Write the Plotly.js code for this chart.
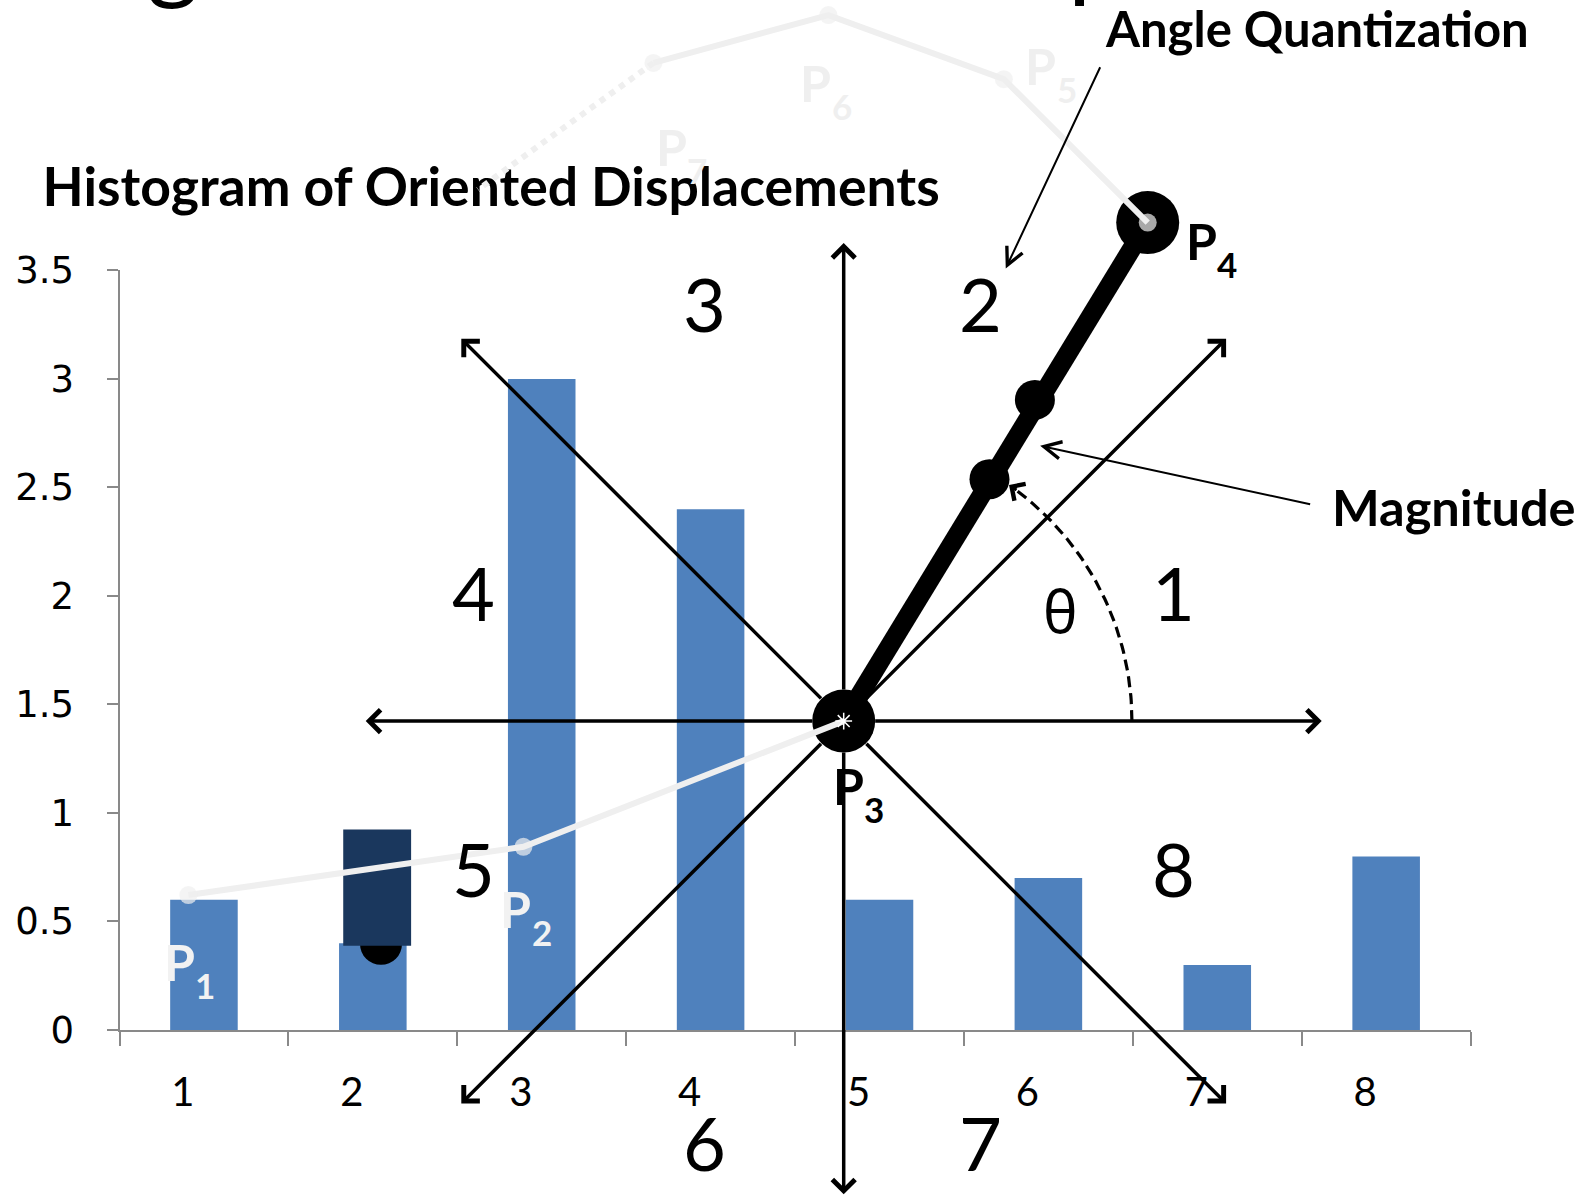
<!DOCTYPE html>
<html>
<head>
<meta charset="utf-8">
<script src="https://cdn.plot.ly/plotly-3.0.1.min.js"></script>
<style>
  html, body { margin: 0; padding: 0; background: #ffffff; }
  #chart { width: 1588px; height: 1198px; }
</style>
</head>
<body>
<div id="chart"></div>
<script>
// ---- Histogram of oriented displacements: 8 direction bins ----
const bins = ['1', '2', '3', '4', '5', '6', '7', '8'];
const binCounts = [0.6, 0.4, 3.0, 2.4, 0.6, 0.7, 0.3, 0.8];
const yTickVals = [0, 0.5, 1, 1.5, 2, 2.5, 3, 3.5];
const yTickText = ['0', '0.5', '1', '1.5', '2', '2.5', '3', '3.5'];

// ---- Joint trajectory P1..P7 (diagram units: P3 at the origin, octant arrows of length 1) ----
const pointNames = ['1', '2', '3', '4', '5', '6', '7'];
const trajX = [-1.371, -0.670, 0, 0.636, 0.335, -0.032, -0.398];
const trajY = [-0.364, -0.263, 0, 1.043, 1.343, 1.477, 1.377];
// dotted continuation of the path after P7
const tailX = [-0.398, -0.765];
const tailY = [1.377, 1.112];
// intermediate samples along the P3 -> P4 displacement
const stepX = [0.305, 0.400];
const stepY = [0.506, 0.672];

// ---- Quantized direction sectors ----
const sectorNames = ['1', '2', '3', '4', '5', '6', '7', '8'];

// ================= page geometry =================
const W = 1588, H = 1198;
const UNIT = 478;                       // pixels per diagram unit
const ORIGIN = { x: 843.7, y: 721.1 };  // where P3 sits on the page

const FONT = 'Lato, "Open Sans", sans-serif';
const LIGHT = '#efefef';

// direction arrow tips, counter-clockwise from "east"
const octantTips = [[1.0, 0], [0.80, 0.80], [0, 1.0], [-0.80, 0.80],
                    [-1.0, 0], [-0.80, -0.80], [0, -0.99], [0.80, -0.80]];
// sector number placement
const sectorPos = [[0.689, 0.269], [0.286, 0.873], [-0.292, 0.873], [-0.775, 0.269],
                   [-0.775, -0.309], [-0.292, -0.881], [0.286, -0.881], [0.689, -0.309]];
// "P" label placement and colour for each trajectory point
const pointLabelPos = [[-1.390, -0.504], [-0.686, -0.393], [0.0095, -0.136], [0.748, 1.005],
                       [0.412, 1.371], [-0.058, 1.335], [-0.361, 1.201]];
const pointLabelColor = ['#f2f2f2', '#f2f2f2', '#000000', '#000000', LIGHT, LIGHT, LIGHT];

// ================= traces =================
const traces = [];

// histogram bars (bottom layer)
traces.push({
  type: 'bar', x: bins, y: binCounts, xaxis: 'x', yaxis: 'y',
  marker: { color: '#4f81bd', line: { width: 0 } },
  hoverinfo: 'skip'
});

const ov = { xaxis: 'x2', yaxis: 'y2', hoverinfo: 'skip', showlegend: false };

// chart title (kept under the faded trajectory, which runs across it)
traces.push(Object.assign({
  type: 'scatter', mode: 'text', x: [-1.676], y: [1.106],
  text: ['Histogram of Oriented Displacements'], textposition: 'middle right',
  textfont: { family: FONT, size: 53.5, color: '#000000', weight: 'bold' }
}, ov));

// pen glyph resting on bin 2: round tip below a dark body
traces.push(Object.assign({
  type: 'scatter', mode: 'markers', x: [-0.968], y: [-0.466],
  marker: { size: 42, color: '#000000', line: { width: 0 } }
}, ov));
traces.push(Object.assign({
  type: 'scatter', mode: 'lines', fill: 'toself', fillcolor: '#1a375d',
  x: [-1.047, -0.905, -0.905, -1.047, -1.047],
  y: [-0.227, -0.227, -0.470, -0.470, -0.227],
  line: { width: 0, color: '#1a375d' }
}, ov));

// displacement vector P3 -> P4
traces.push(Object.assign({
  type: 'scatter', mode: 'lines',
  x: [trajX[2], trajX[3]], y: [trajY[2], trajY[3]],
  line: { color: '#000000', width: 19 }
}, ov));

// black discs on P3, P4 and the intermediate samples
traces.push(Object.assign({
  type: 'scatter', mode: 'markers',
  x: [trajX[2], trajX[3]], y: [trajY[2], trajY[3]],
  marker: { size: 63, color: '#000000', line: { width: 0 } }
}, ov));
traces.push(Object.assign({
  type: 'scatter', mode: 'markers', x: stepX, y: stepY,
  marker: { size: 40, color: '#000000', line: { width: 0 } }
}, ov));

// dashed angle arc (theta) from the horizontal axis up to the displacement
const arcR = 0.603, arcEnd = 53;
const arcX = [], arcY = [];
for (let a = 0; a <= arcEnd; a += 1) {
  arcX.push(arcR * Math.cos(a * Math.PI / 180));
  arcY.push(arcR * Math.sin(a * Math.PI / 180));
}
traces.push(Object.assign({
  type: 'scatter', mode: 'lines', x: arcX, y: arcY,
  line: { color: '#000000', width: 3.2, dash: '11px,6px' }
}, ov));

// faded trajectory; the P3 -> P4 stretch is covered by the displacement vector
const pathX = trajX.slice(0, 3).concat([null], trajX.slice(3));
const pathY = trajY.slice(0, 3).concat([null], trajY.slice(3));
traces.push(Object.assign({
  type: 'scatter', mode: 'lines', x: pathX, y: pathY, connectgaps: false,
  line: { color: LIGHT, width: 6 }
}, ov));
traces.push(Object.assign({
  type: 'scatter', mode: 'markers', x: trajX, y: trajY,
  marker: { color: LIGHT, size: trajX.map((_, i) => (i === 2 ? 0 : 18)), line: { width: 0 } }
}, ov));
traces.push(Object.assign({
  type: 'scatter', mode: 'lines', x: tailX, y: tailY,
  line: { color: LIGHT, width: 6, dash: 'dot' }
}, ov));

// small white star in the centre of P3
traces.push(Object.assign({
  type: 'scatter', mode: 'markers', x: [trajX[2]], y: [trajY[2]],
  marker: { symbol: 'asterisk-open', size: 14, color: '#ffffff', line: { color: '#ffffff', width: 1.5 } }
}, ov));

// ================= annotations =================
const annotations = [];
const onDiagram = { xref: 'x2', yref: 'y2' };

// eight direction arrows radiating from P3
octantTips.forEach(([tx, ty]) => annotations.push(Object.assign({
  axref: 'x2', ayref: 'y2', x: tx, y: ty, ax: 0, ay: 0, text: '',
  showarrow: true, arrowhead: 4, arrowsize: 1.25, arrowwidth: 3.5,
  arrowcolor: '#000000', startstandoff: 30
}, onDiagram)));

// sector numbers
sectorNames.forEach((s, i) => annotations.push(Object.assign({
  x: sectorPos[i][0], y: sectorPos[i][1], text: s, showarrow: false,
  xanchor: 'center', yanchor: 'middle',
  font: { family: FONT, size: 74, color: '#000000' }
}, onDiagram)));

// arrowhead closing the theta arc
const tipA = (arcEnd + 2) * Math.PI / 180;
annotations.push(Object.assign({
  x: arcR * Math.cos(tipA), y: arcR * Math.sin(tipA), ax: 9, ay: 6, text: '',
  showarrow: true, arrowhead: 4, arrowsize: 1.3, arrowwidth: 3, arrowcolor: '#000000'
}, onDiagram));
annotations.push(Object.assign({
  x: 0.453, y: 0.231, text: 'θ', showarrow: false, xanchor: 'center', yanchor: 'middle',
  font: { family: '"Noto Sans", "DejaVu Sans", sans-serif', size: 58, color: '#000000' }
}, onDiagram));

// callouts
annotations.push(Object.assign({
  x: 0.990, y: 1.451, text: 'Angle Quantization', showarrow: false,
  xanchor: 'center', yanchor: 'middle',
  font: { family: FONT, size: 49, color: '#000000', weight: 'bold' }
}, onDiagram));
annotations.push(Object.assign({
  axref: 'x2', ayref: 'y2', x: 0.339, y: 0.947, ax: 0.538, ay: 1.371, text: '',
  showarrow: true, arrowhead: 5, arrowsize: 1.7, arrowwidth: 2, arrowcolor: '#000000'
}, onDiagram));
annotations.push(Object.assign({
  x: 1.017, y: 0.449, text: 'Magnitude', showarrow: false,
  xanchor: 'left', yanchor: 'middle',
  font: { family: FONT, size: 50.5, color: '#000000', weight: 'bold' }
}, onDiagram));
annotations.push(Object.assign({
  axref: 'x2', ayref: 'y2', x: 0.411, y: 0.576, ax: 0.979, ay: 0.453, text: '',
  showarrow: true, arrowhead: 5, arrowsize: 1.7, arrowwidth: 2, arrowcolor: '#000000'
}, onDiagram));

// point labels P1..P7 with subscripts
pointNames.forEach((n, i) => {
  const [lx, ly] = pointLabelPos[i];
  const c = pointLabelColor[i];
  annotations.push(Object.assign({
    x: lx, y: ly, text: 'P', showarrow: false, xanchor: 'center', yanchor: 'middle',
    font: { family: FONT, size: 50, color: c, weight: 'bold' }
  }, onDiagram));
  annotations.push(Object.assign({
    x: lx, y: ly, xshift: 26, yshift: -23, text: n, showarrow: false,
    xanchor: 'center', yanchor: 'middle',
    font: { family: FONT, size: 35, color: c, weight: 'bold' }
  }, onDiagram));
});

// descenders of the large heading above the page edge
annotations.push({
  xref: 'paper', yref: 'paper', x: 173 / W, y: 1 - 14 / H, text: 'g', showarrow: false,
  xanchor: 'center', yanchor: 'bottom',
  font: { family: FONT, size: 100, color: '#000000' }
});
annotations.push({
  xref: 'paper', yref: 'paper', x: 1066 / W, y: 1 - 12 / H, text: 'p', showarrow: false,
  xanchor: 'left', yanchor: 'bottom',
  font: { family: FONT, size: 100, color: '#000000' }
});

// ================= layout =================
const axisGray = '#898989';
const layout = {
  width: W, height: H,
  margin: { l: 0, r: 0, t: 0, b: 0, pad: 0 },
  paper_bgcolor: '#ffffff', plot_bgcolor: 'rgba(0,0,0,0)',
  showlegend: false, bargap: 0.6,
  xaxis: {
    type: 'category', domain: [119.5 / W, 1470.6 / W], range: [-0.5, 7.5],
    showline: true, linecolor: axisGray, linewidth: 2,
    ticks: 'outside', tickson: 'boundaries', ticklen: 14, tickwidth: 2, tickcolor: axisGray,
    showgrid: false, zeroline: false,
    tickfont: { family: FONT, size: 40, color: '#000000' },
    ticklabelshift: -21, ticklabelstandoff: 26, anchor: 'y'
  },
  yaxis: {
    domain: [(H - 1030) / H, (H - 270.4) / H], range: [0, 3.5],
    tickmode: 'array', tickvals: yTickVals, ticktext: yTickText,
    showline: true, linecolor: axisGray, linewidth: 2,
    ticks: 'outside', ticklen: 11, tickwidth: 2, tickcolor: axisGray,
    showgrid: false, zeroline: false,
    tickfont: { family: '"DejaVu Sans", sans-serif', size: 37, color: '#000000' },
    ticklabelstandoff: 25, anchor: 'x'
  },
  xaxis2: {
    domain: [0, 1], anchor: 'y2', visible: false, fixedrange: true,
    range: [-ORIGIN.x / UNIT, (W - ORIGIN.x) / UNIT]
  },
  yaxis2: {
    domain: [0, 1], anchor: 'x2', visible: false, fixedrange: true,
    range: [-(H - ORIGIN.y) / UNIT, ORIGIN.y / UNIT]
  },
  annotations: annotations
};

Plotly.newPlot('chart', traces, layout, { staticPlot: true, displayModeBar: false });
</script>
</body>
</html>
